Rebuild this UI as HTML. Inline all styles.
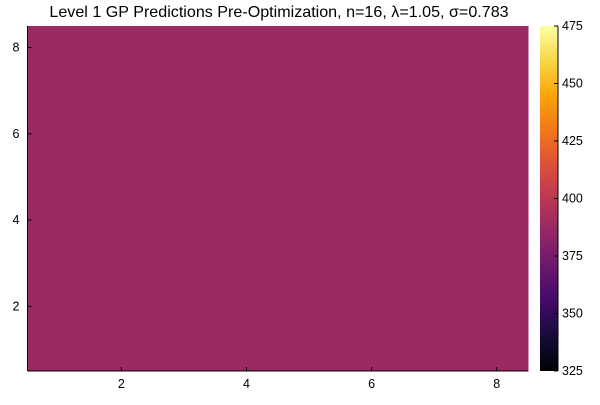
<!DOCTYPE html>
<html><head><meta charset="utf-8"><style>
body{margin:0;background:#fff;}
svg text{font-family:"Liberation Sans",sans-serif;fill:#000;}
</style></head><body>
<svg width="600" height="400" xmlns="http://www.w3.org/2000/svg">
<defs>
<linearGradient id="inf" x1="0" y1="1" x2="0" y2="0">
<stop offset="0" stop-color="#000004"/><stop offset="0.1" stop-color="#160b39"/>
<stop offset="0.2" stop-color="#420a68"/><stop offset="0.3" stop-color="#6a176e"/>
<stop offset="0.4" stop-color="#932667"/><stop offset="0.5" stop-color="#bc3754"/>
<stop offset="0.6" stop-color="#dd513a"/><stop offset="0.7" stop-color="#f37819"/>
<stop offset="0.8" stop-color="#fca50a"/><stop offset="0.9" stop-color="#f6d746"/>
<stop offset="1" stop-color="#fcffa4"/>
</linearGradient>
</defs>
<text x="279" y="17" text-anchor="middle" font-size="16.1">Level 1 GP Predictions Pre-Optimization, n=16, λ=1.05, σ=0.783</text>
<g id="cells"></g>
<g id="axes"></g>
<rect x="540" y="26" width="18" height="345" fill="url(#inf)"/>
<g id="cbar"></g>
</svg>
<script>
const xCenters=[1,2,3,4,5,6,7,8];
const yCenters=[1,2,3,4,5,6,7,8];
const values=[
[388,388,388,388,388,388,388,388],[388,388,388,388,388,388,388,388],
[388,388,388,388,388,388,388,388],[388,388,388,388,388,388,388,388],
[388,388,388,388,388,388,388,388],[388,388,388,388,388,388,388,388],
[388,388,388,388,388,388,388,388],[388,388,388,388,388,388,388,388]];
const xTicks=[2,4,6,8];
const yTicks=[2,4,6,8];
const cTicks=[325,350,375,400,425,450,475];
const X0=27.5,X1=528,Y0=371,Y1=26;
const sx=v=>X0+(v-0.5)/8*(X1-X0);
const sy=v=>Y0-(v-0.5)/8*(Y0-Y1);
const cmin=325,cmax=475;
const sc=v=>Y0-(v-cmin)/(cmax-cmin)*(Y0-Y1);
const stops=[[0,[0,0,4]],[0.1,[22,11,57]],[0.2,[66,10,104]],[0.3,[106,23,110]],[0.4,[147,38,103]],[0.5,[188,55,84]],[0.6,[221,81,58]],[0.7,[243,120,25]],[0.8,[252,165,10]],[0.9,[246,215,70]],[1,[252,255,164]]];
function cmap(v){let t=Math.max(0,Math.min(1,(v-cmin)/(cmax-cmin)));for(let i=1;i<stops.length;i++){if(t<=stops[i][0]){const a=stops[i-1],b=stops[i],f=(t-a[0])/(b[0]-a[0]);return 'rgb('+a[1].map((c,k)=>Math.round(c+(b[1][k]-c)*f)).join(',')+')';}}return 'rgb(252,255,164)';}
const NS='http://www.w3.org/2000/svg';
const cells=document.getElementById('cells');
yCenters.forEach((yv,j)=>xCenters.forEach((xv,i)=>{
 const r=document.createElementNS(NS,'rect');
 
 
 const x=sx(xv-0.5),y=sy(yv+0.5);
 r.setAttribute('x',x);r.setAttribute('y',y);
 r.setAttribute('width',sx(xv+0.5)-x+0.5);r.setAttribute('height',sy(yv-0.5)-y+0.5);
 r.setAttribute('fill',cmap(values[j][i]));
 cells.appendChild(r);
}));
const ax=document.getElementById('axes');
function add(p,tag,attrs,name,txt){const e=document.createElementNS(NS,tag);for(const k in attrs)e.setAttribute(k,attrs[k]);if(txt!==undefined)e.textContent=txt;p.appendChild(e);return e;}
add(ax,'line',{x1:X0,y1:Y0,x2:X1,y2:Y0,stroke:'#000','stroke-width':1},'x-axis');
add(ax,'line',{x1:X0,y1:Y0,x2:X0,y2:Y1,stroke:'#000','stroke-width':1},'y-axis');
xTicks.forEach(t=>{add(ax,'line',{x1:sx(t),y1:Y0,x2:sx(t),y2:Y0-4,stroke:'#000'},'x-tick');add(ax,'text',{x:sx(t),y:Y0+17,'text-anchor':'middle','font-size':12.5},'x-tick-label',t);});
yTicks.forEach(t=>{add(ax,'line',{x1:X0,y1:sy(t),x2:X0+4,y2:sy(t),stroke:'#000'},'y-tick');add(ax,'text',{x:X0-8,y:sy(t)+4,'text-anchor':'end','font-size':12.5},'y-tick-label',t);});
const cb=document.getElementById('cbar');
add(cb,'line',{x1:558,y1:Y0,x2:558,y2:Y1,stroke:'#000'},'colorbar-axis');
cTicks.forEach(t=>{add(cb,'line',{x1:558,y1:sc(t),x2:554,y2:sc(t),stroke:'#000'},'colorbar-tick');add(cb,'text',{x:562,y:sc(t)+4,'font-size':12.5},'colorbar-tick-label',t);});
</script>
</body></html>
